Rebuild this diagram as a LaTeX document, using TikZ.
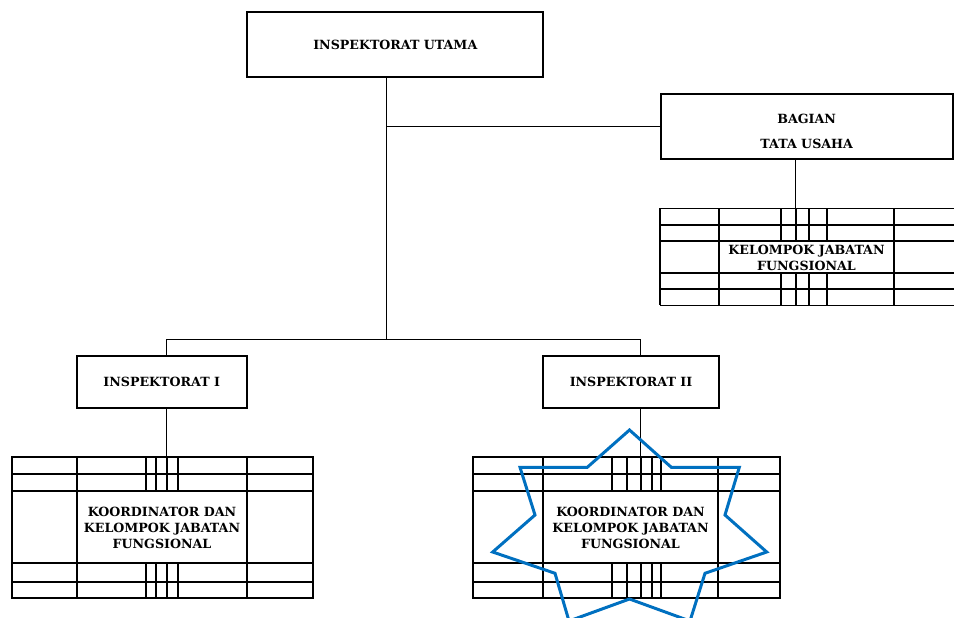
\documentclass[tikz,border=0pt]{standalone}
\usepackage{fontspec}
\setmainfont{DejaVu Serif}
\usepackage{xcolor}
\usepackage{tikz}
\usetikzlibrary{positioning,calc}
\definecolor{starblue}{RGB}{0,112,192}
\newcommand{\pxu}{0.02cm}
\tikzset{
  org box/.style={
    draw,
    line width=1.1pt,
    fill=white,
    align=center,
    inner sep=0pt,
    font=\fontsize{7.2}{9.2}\selectfont\bfseries
  },
  box text/.style={
    align=center,
    inner sep=0pt,
    font=\fontsize{7.2}{9.2}\selectfont\bfseries
  },
  grid line/.style={
    line width=1pt
  },
  link/.style={
    line width=0.9pt
  },
  star line/.style={
    draw=starblue,
    line width=1.7pt,
    line join=miter
  }
}

\begin{document}
\begin{tikzpicture}[x=\pxu,y=-\pxu]
  \useasboundingbox (0,0) rectangle (954,618);
  % Struktur organisasi inspektorat
  \node[org box, minimum width=296*\pxu, minimum height=65*\pxu] (utama) at (395.3,44.8) {INSPEKTORAT UTAMA};
  \node[org box, minimum width=292*\pxu, minimum height=65*\pxu] (tu) at (806.7,126.5) {};
  \node[box text] (tutext) at (806.7,131.5) {BAGIAN\\[5pt]TATA USAHA};
  \node[org box, minimum width=170*\pxu, minimum height=52*\pxu] (insp1) at (161.7,382.2) {INSPEKTORAT I};
  \node[org box, minimum width=176.6*\pxu, minimum height=52*\pxu] (insp2) at (631,382.2) {INSPEKTORAT II};

  % grid kelompok jabatan fungsional (kanan atas)
  \foreach \y in {208.5,225,241,273,289,305.5} \draw[grid line] (660,\y) -- (954,\y);
  \foreach \x in {660,719,894} \draw[grid line] (\x,208.5) -- (\x,305.5);
  \foreach \x in {781,795.7,809,827} {
    \draw[grid line] (\x,208.5) -- (\x,241);
    \draw[grid line] (\x,273) -- (\x,305.5);
  }
  \node[box text] (kjf) at (806.5,257.5) {KELOMPOK JABATAN\\FUNGSIONAL};
  \coordinate (kjftop) at (795.7,208.5);

  % grid koordinator (kiri bawah)
  \draw[grid line] (11.7,457.3) rectangle (313.3,598);
  \foreach \y in {474,491,563,582} \draw[grid line] (11.7,\y) -- (313.3,\y);
  \foreach \x in {77,247} \draw[grid line] (\x,457.3) -- (\x,598);
  \foreach \x in {146,156,166.7,178} {
    \draw[grid line] (\x,457.3) -- (\x,491);
    \draw[grid line] (\x,563) -- (\x,598);
  }
  \node[box text] (kor1) at (162,527.8) {KOORDINATOR DAN\\KELOMPOK JABATAN\\FUNGSIONAL};
  \coordinate (kor1top) at (166.7,457.3);

  % grid koordinator (kanan bawah)
  \draw[grid line] (473.3,457.3) rectangle (780,598);
  \foreach \y in {474,491,563,582} \draw[grid line] (473.3,\y) -- (780,\y);
  \foreach \x in {542.7,718.3} \draw[grid line] (\x,457.3) -- (\x,598);
  \foreach \x in {611.7,626.7,640.7,651.7,660.7} {
    \draw[grid line] (\x,457.3) -- (\x,491);
    \draw[grid line] (\x,563) -- (\x,598);
  }
  \node[box text] (kor2) at (630.5,527.8) {KOORDINATOR DAN\\KELOMPOK JABATAN\\FUNGSIONAL};
  \coordinate (kor2top) at (640.7,457.3);

  % garis penghubung
  \coordinate (j0) at (386.7,339.3);
  \coordinate (j1) at (166.7,339.3);
  \coordinate (j2) at (640.7,339.3);
  \draw[link] (utama.south -| j0) -- (j0);
  \draw[link] (tu.west) -- (tu.west -| j0);
  \draw[link] (tu.south -| kjftop) -- (kjftop);
  \draw[link] (j1) -- (j2);
  \draw[link] (j1) -- (insp1.north -| j1);
  \draw[link] (j2) -- (insp2.north -| j2);
  \draw[link] (insp1.south -| j1) -- (kor1top);
  \draw[link] (insp2.south -| j2) -- (kor2top);

  % bintang biru
  \draw[star line] (629.5,430) -- (671.3,467.3) -- (739.3,467.3) -- (725,515)
    -- (766.7,552) -- (705,573.3) -- (690,621) -- (629.5,599)
    -- (569,621) -- (555,573.3) -- (492.7,552) -- (535,515)
    -- (520,467.3) -- (587.3,467.3) -- cycle;
\end{tikzpicture}
\end{document}
